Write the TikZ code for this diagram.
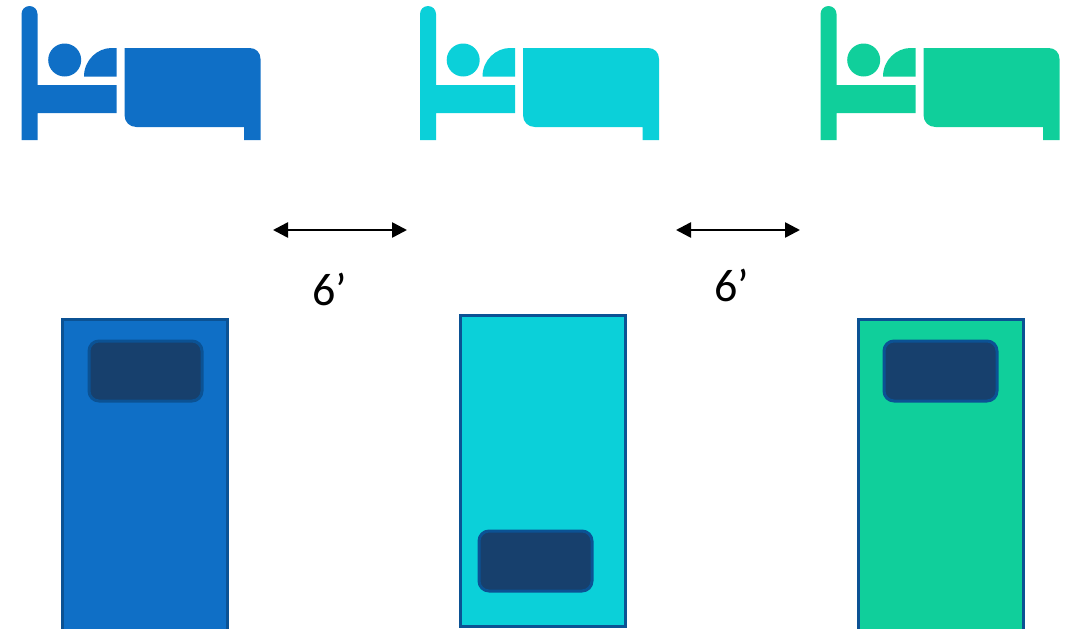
\documentclass[tikz,border=0pt]{standalone}
\usepackage{fontspec}
\setmainfont{Carlito}
\usetikzlibrary{arrows.meta}
\definecolor{bedblue}{HTML}{0F6FC6}
\definecolor{bedcyan}{HTML}{0BD0D9}
\definecolor{bedgreen}{HTML}{10CF9B}
\definecolor{pillowdark}{HTML}{17406D}
\definecolor{edgeblue}{HTML}{0B5294}
\tikzset{
  x=1pt,y=-1pt,
  mattress/.style={draw=edgeblue,line width=3pt},
  pillow/.style={draw=edgeblue,line width=3pt,fill=pillowdark,rounded corners=10pt},
  spanarrow/.style={draw=black,line width=2.6pt,{Triangle[length=15pt,width=15pt]}-{Triangle[length=15pt,width=15pt]}},
  dimlabel/.style={font=\fontsize{46pt}{50pt}\selectfont,inner sep=0pt,text=black},
  pics/bedicon/.style={code={
    \fill[#1] (0,140) -- (0,14) arc[start angle=180,end angle=360,radius=8] -- (16,85) -- (95,85) -- (95,113) -- (16,113) -- (16,140) -- cycle;
    \fill[#1] (43.2,60) circle[radius=16.5];
    \fill[#1] (62.5,76.5) .. controls (62.5,60) and (76,48) .. (90,48) -- (95,48) -- (95,76.5) -- cycle;
    \fill[#1] (103,48) -- (228,48) .. controls (234.5,48) and (239,52.5) .. (239,59) -- (239,140) -- (222.5,140) -- (222.5,127) -- (115,127) .. controls (108,127) and (103,122) .. (103,115) -- cycle;
  }}
}
\begin{document}
\begin{tikzpicture}
\useasboundingbox (0,0) rectangle (1072,629);
\clip (0,0) rectangle (1072,629);
\pic at (21.5,0) {bedicon=bedblue};
\pic at (420,0) {bedicon=bedcyan};
\pic at (820.5,0) {bedicon=bedgreen};
\coordinate (a1l) at (273,230);
\coordinate (a1r) at (407,230);
\coordinate (a2l) at (676,230);
\coordinate (a2r) at (800,230);
\draw[spanarrow] (a1l) -- (a1r);
\draw[spanarrow] (a2l) -- (a2r);
\node[dimlabel] (d1) at (330,289) {6’};
\node[dimlabel] (d2) at (732,285) {6’};
\draw[mattress,fill=bedblue] (62,319) rectangle (227,640);
\draw[mattress,fill=bedcyan] (460,315) rectangle (625,626);
\draw[mattress,fill=bedgreen] (858,319) rectangle (1023,640);
\draw[pillow] (89,341) rectangle (202,401);
\draw[pillow] (479,531) rectangle (592,591);
\draw[pillow] (884,341) rectangle (997,401);
\end{tikzpicture}
\end{document}
